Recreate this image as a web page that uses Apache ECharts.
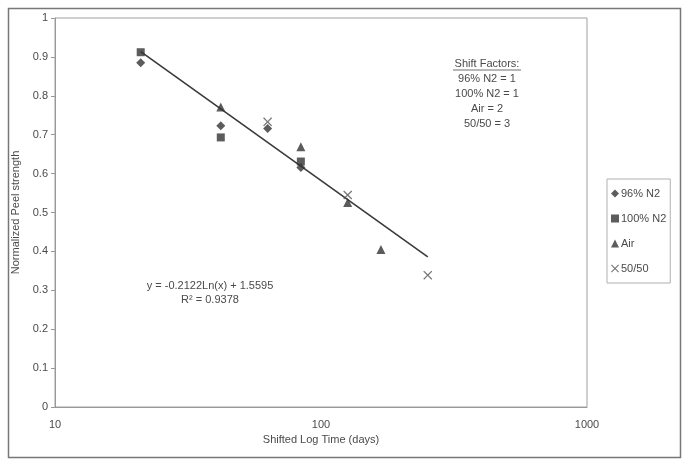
<!DOCTYPE html>
<html>
<head>
<meta charset="utf-8">
<script src="https://cdn.jsdelivr.net/npm/echarts@6/dist/echarts.min.js"></script>
<style>
html,body{margin:0;padding:0;background:#fff;}
#chart{width:683px;height:460px;}
</style>
</head>
<body>
<div id="chart"></div>
<script>
// ---- data ----
const seriesNames = ['96% N2', '100% N2', 'Air', '50/50'];
const n2_96_x = [21, 42, 63, 84];
const n2_96_y = [0.885, 0.723, 0.716, 0.616];
const n2_100_x = [21, 42, 84];
const n2_100_y = [0.912, 0.693, 0.631];
const air_x = [42, 84, 126, 168];
const air_y = [0.771, 0.669, 0.526, 0.405];
const mix_x = [63, 126, 252];
const mix_y = [0.733, 0.545, 0.339];
const trendA = -0.2122, trendB = 1.5595;
const trendRange = [21, 252];
const shiftLines = ['96% N2 = 1', '100% N2 = 1', 'Air = 2', '50/50 = 3'];
const xTicks = [10, 100, 1000];

function pairs(xs, ys) { return xs.map((x, i) => [x, ys[i]]); }
const trendData = trendRange.map(x => [x, trendA * Math.log(x) + trendB]);

const FONT = '"Liberation Sans", Arial, sans-serif';
const TXT = '#4a4a4a';
const MARK = '#333333';
const xPath = 'path://M0,1 L1,0 L5,4 L9,0 L10,1 L6,5 L10,9 L9,10 L5,6 L1,10 L0,9 L4,5 Z';

const chart = echarts.init(document.getElementById('chart'), null, {renderer: 'canvas'});
chart.setOption({
  backgroundColor: '#ffffff',
  animation: false,
  textStyle: {fontFamily: FONT},
  grid: {left: 55, top: 18, width: 532, height: 389, show: true, borderColor: '#a0a0a0', borderWidth: 1},
  xAxis: {
    type: 'log', logBase: 10, min: 10, max: 1000,
    axisLine: {lineStyle: {color: '#999'}},
    axisTick: {show: false},
    minorTick: {show: false},
    splitLine: {show: false},
    axisLabel: {color: TXT, fontSize: 11, margin: 12, fontFamily: FONT,
      formatter: v => (xTicks.indexOf(Math.round(v)) >= 0 ? String(Math.round(v)) : '')},
    name: 'Shifted Log Time (days)', nameLocation: 'middle', nameGap: 27,
    nameTextStyle: {color: TXT, fontSize: 11, fontFamily: FONT}
  },
  yAxis: {
    type: 'value', min: 0, max: 1, interval: 0.1,
    axisLine: {show: true, lineStyle: {color: '#999'}},
    axisTick: {show: true, length: 4, lineStyle: {color: '#999'}},
    splitLine: {show: false},
    axisLabel: {color: TXT, fontSize: 11, margin: 7, fontFamily: FONT},
    name: 'Normalized Peel strength', nameLocation: 'middle', nameGap: 32,
    nameTextStyle: {color: TXT, fontSize: 11, fontFamily: FONT}
  },
  legend: {
    orient: 'vertical', left: 607, top: 179,
    data: seriesNames,
    itemWidth: 8, itemHeight: 8, itemGap: 14,
    padding: [9, 4, 9, 4],
    borderColor: '#b0b0b0', borderWidth: 1,
    textStyle: {color: TXT, fontSize: 11, fontFamily: FONT, padding: [0, 0, 0, -3]}
  },
  series: [
    {name: 'trend', type: 'line', data: trendData, showSymbol: false, symbol: 'none',
     lineStyle: {color: '#3a3a3a', width: 1.6}, silent: true, z: 1},
    {name: '96% N2', type: 'scatter', data: pairs(n2_96_x, n2_96_y), symbol: 'diamond', symbolSize: 9,
     itemStyle: {color: MARK}, z: 3},
    {name: '100% N2', type: 'scatter', data: pairs(n2_100_x, n2_100_y), symbol: 'rect', symbolSize: 8,
     itemStyle: {color: MARK}, z: 3},
    {name: 'Air', type: 'scatter', data: pairs(air_x, air_y), symbol: 'triangle', symbolSize: 9,
     itemStyle: {color: MARK}, z: 3},
    {name: '50/50', type: 'scatter', data: pairs(mix_x, mix_y), symbol: xPath, symbolSize: 9,
     itemStyle: {color: '#555'}, z: 3}
  ],
  graphic: [
    {type: 'rect', left: 6, top: 6, shape: {width: 672, height: 449},
     style: {fill: 'none', stroke: '#777', lineWidth: 1.5}, silent: true},
    {type: 'text', x: 487, y: 64, style: {text: 'Shift Factors:', fill: TXT, font: '11px ' + FONT, align: 'center', verticalAlign: 'middle'}},
    {type: 'line', shape: {x1: 453, y1: 70, x2: 521, y2: 70}, style: {stroke: TXT, lineWidth: 0.8}},
    {type: 'text', x: 487, y: 79, style: {text: shiftLines[0], fill: TXT, font: '11px ' + FONT, align: 'center', verticalAlign: 'middle'}},
    {type: 'text', x: 487, y: 94, style: {text: shiftLines[1], fill: TXT, font: '11px ' + FONT, align: 'center', verticalAlign: 'middle'}},
    {type: 'text', x: 487, y: 109, style: {text: shiftLines[2], fill: TXT, font: '11px ' + FONT, align: 'center', verticalAlign: 'middle'}},
    {type: 'text', x: 487, y: 124, style: {text: shiftLines[3], fill: TXT, font: '11px ' + FONT, align: 'center', verticalAlign: 'middle'}},
    {type: 'text', x: 210, y: 286, style: {text: 'y = ' + trendA.toFixed(4) + 'Ln(x) + ' + trendB.toFixed(4), fill: TXT, font: '11px ' + FONT, align: 'center', verticalAlign: 'middle'}},
    {type: 'text', x: 210, y: 300, style: {text: 'R\u00B2 = 0.9378', fill: TXT, font: '11px ' + FONT, align: 'center', verticalAlign: 'middle'}}
  ]
});
</script>
</body>
</html>
